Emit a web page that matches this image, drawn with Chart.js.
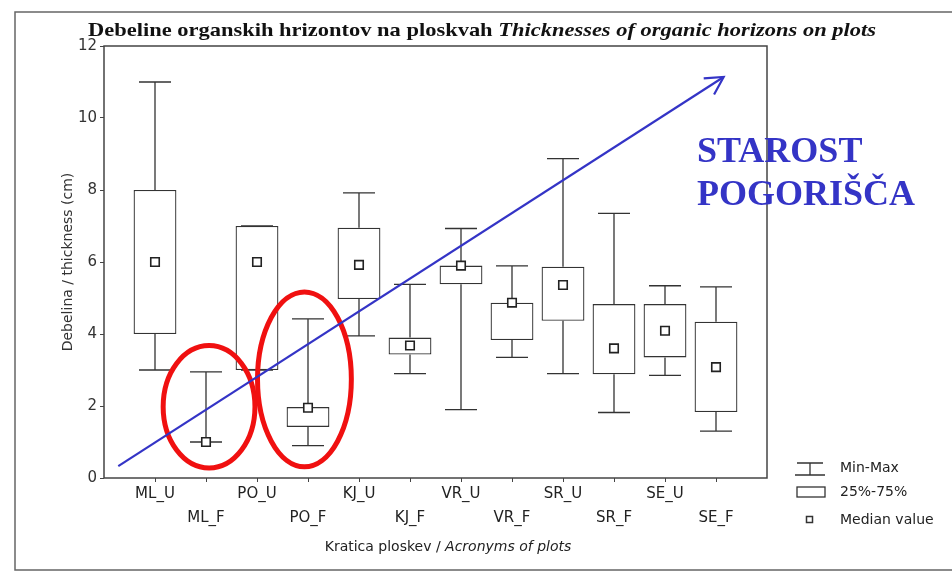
<!DOCTYPE html>
<html>
<head>
<meta charset="utf-8">
<script src="https://cdn.jsdelivr.net/npm/chart.js@4.4.1/dist/chart.umd.min.js"></script>
<style>
  html, body { margin: 0; padding: 0; background: #fff; }
  canvas { display: block; }
</style>
</head>
<body>
<canvas id="chart" width="952" height="576"></canvas>
<script>
// Plots and box values (cm)
const plots = ['ML_U', 'ML_F', 'PO_U', 'PO_F', 'KJ_U', 'KJ_F', 'VR_U', 'VR_F', 'SR_U', 'SR_F', 'SE_U', 'SE_F']
const minVals = [3.0, 1.0, 3.0, 0.9, 3.95, 2.9, 1.9, 3.35, 2.9, 1.82, 2.85, 1.3]
const q1Vals = [4.0, 1.0, 3.0, 1.42, 4.97, 3.43, 5.38, 3.83, 4.37, 2.88, 3.35, 1.83]
const medianVals = [6.0, 1.0, 6.0, 1.95, 5.92, 3.68, 5.9, 4.87, 5.36, 3.6, 4.09, 3.08]
const q3Vals = [8.0, 1.0, 7.0, 1.97, 6.95, 3.9, 5.9, 4.87, 5.87, 4.83, 4.83, 4.34]
const maxVals = [11.0, 2.95, 7.0, 4.42, 7.92, 5.38, 6.93, 5.89, 8.87, 7.35, 5.34, 5.31]
const yTicks = [0, 2, 4, 6, 8, 10, 12]

// Hand-drawn overlay (in data units)
const arrowX = [0.28, 12.15]
const arrowY = [0.33, 11.14]
const rings = [
  { x: 2.06, y: 1.98, w: 0.9, h: 1.7 },
  { x: 3.93, y: 2.74, w: 0.92, h: 2.43 },
]

const INK = '#333'
const BLUE = '#3434c6'

/*--------------------------------------------
  Extra drawing: whiskers, rings, titles, legend
---------------------------------------------*/
const decor = {
  id: 'decor',
  beforeDraw(chart) {
    const { ctx } = chart
    ctx.save()
    ctx.fillStyle = '#fff'
    ctx.fillRect(0, 0, chart.width, chart.height)
    ctx.restore()
  },
  beforeDatasetsDraw(chart) {
    const { ctx, scales: { x, y } } = chart
    ctx.save()
    ctx.strokeStyle = INK
    ctx.lineWidth = 1.3
    plots.forEach((p, i) => {
      const px = x.getPixelForValue(i + 1)
      const yMin = y.getPixelForValue(minVals[i])
      const yMax = y.getPixelForValue(maxVals[i])
      ctx.beginPath()
      ctx.moveTo(px, yMin)
      ctx.lineTo(px, y.getPixelForValue(q1Vals[i]))
      ctx.moveTo(px, y.getPixelForValue(q3Vals[i]))
      ctx.lineTo(px, yMax)
      ctx.moveTo(px - 16, yMin)
      ctx.lineTo(px + 16, yMin)
      ctx.moveTo(px - 16, yMax)
      ctx.lineTo(px + 16, yMax)
      ctx.stroke()
    })
    ctx.restore()
  },
  afterDatasetDraw(chart, args) {
    if (args.index !== 1) return
    const { ctx, scales: { x, y } } = chart
    ctx.save()
    ctx.strokeStyle = '#f01010'
    ctx.lineWidth = 5
    rings.forEach((r) => {
      const cx = x.getPixelForValue(r.x)
      const cy = y.getPixelForValue(r.y)
      const rx = Math.abs(x.getPixelForValue(r.x + r.w) - cx)
      const ry = Math.abs(y.getPixelForValue(r.y + r.h) - cy)
      ctx.beginPath()
      ctx.ellipse(cx, cy, rx, ry, 0, 0, Math.PI * 2)
      ctx.stroke()
    })
    ctx.restore()
  },
  afterDatasetsDraw(chart) {
    const { ctx, chartArea: a, scales: { x, y } } = chart
    ctx.save()
    // plot frame
    ctx.strokeStyle = '#444'
    ctx.lineWidth = 1.5
    ctx.strokeRect(a.left, a.top, a.right - a.left, a.bottom - a.top)

    // arrow head
    const x0 = x.getPixelForValue(arrowX[0]), y0 = y.getPixelForValue(arrowY[0])
    const x1 = x.getPixelForValue(arrowX[1]), y1 = y.getPixelForValue(arrowY[1])
    const ang = Math.atan2(y1 - y0, x1 - x0)
    ctx.strokeStyle = BLUE
    ctx.lineWidth = 2.2
    ctx.beginPath()
    ctx.moveTo(x1 - 20 * Math.cos(ang - 0.5), y1 - 20 * Math.sin(ang - 0.5))
    ctx.lineTo(x1, y1)
    ctx.lineTo(x1 - 20 * Math.cos(ang + 0.5), y1 - 20 * Math.sin(ang + 0.5))
    ctx.stroke()
    ctx.restore()
  },
  afterDraw(chart) {
    const { ctx } = chart
    ctx.save()

    // outer frame of the scanned figure
    ctx.strokeStyle = '#666'
    ctx.lineWidth = 1.5
    ctx.beginPath()
    ctx.moveTo(952, 12)
    ctx.lineTo(15, 12)
    ctx.lineTo(15, 570)
    ctx.lineTo(952, 570)
    ctx.stroke()

    // title, squeezed to the width of the scan
    const t1 = 'Debeline organskih hrizontov na ploskvah '
    const t2 = 'Thicknesses of organic horizons on plots'
    const f1 = 'bold 19px "Liberation Serif"'
    const f2 = 'italic bold 19px "Liberation Serif"'
    ctx.font = f1
    const w1 = ctx.measureText(t1).width
    ctx.font = f2
    const w2 = ctx.measureText(t2).width
    const s = 788 / (w1 + w2)
    ctx.translate(88, 36)
    ctx.scale(s, 1)
    ctx.fillStyle = '#111'
    ctx.textBaseline = 'alphabetic'
    ctx.font = f1
    ctx.fillText(t1, 0, 0)
    ctx.font = f2
    ctx.fillText(t2, w1, 0)
    ctx.setTransform(1, 0, 0, 1, 0, 0)

    // x axis title
    const a1 = 'Kratica ploskev / '
    const a2 = 'Acronyms of plots'
    ctx.font = '14px "DejaVu Sans"'
    const aw1 = ctx.measureText(a1).width
    ctx.font = 'italic 14px "DejaVu Sans"'
    const aw2 = ctx.measureText(a2).width
    const ax = 448 - (aw1 + aw2) / 2
    ctx.fillStyle = '#222'
    ctx.textBaseline = 'middle'
    ctx.font = '14px "DejaVu Sans"'
    ctx.fillText(a1, ax, 547)
    ctx.font = 'italic 14px "DejaVu Sans"'
    ctx.fillText(a2, ax + aw1, 547)

    // legend
    ctx.strokeStyle = INK
    ctx.lineWidth = 1.3
    ctx.beginPath()
    ctx.moveTo(797, 463); ctx.lineTo(823, 463)
    ctx.moveTo(810, 463); ctx.lineTo(810, 475)
    ctx.moveTo(795, 475); ctx.lineTo(825, 475)
    ctx.stroke()
    ctx.strokeRect(797, 487, 28, 10)
    ctx.lineWidth = 1.5
    ctx.strokeRect(806.5, 516.5, 6, 6)
    ctx.font = '14px "DejaVu Sans"'
    ctx.fillStyle = '#222'
    ctx.fillText('Min-Max', 840, 468)
    ctx.fillText('25%-75%', 840, 492)
    ctx.fillText('Median value', 840, 520)

    // blue note
    ctx.fillStyle = BLUE
    ctx.textBaseline = 'alphabetic'
    ctx.font = 'bold 36px "Liberation Serif"'
    ctx.fillText('STAROST', 697, 162)
    ctx.fillText('POGORIŠČA', 697, 205)
    ctx.restore()
  },
}

/*--------------------------------------------
  Chart
---------------------------------------------*/
new Chart(document.getElementById('chart'), {
  type: 'bar',
  data: {
    datasets: [
      {
        type: 'bar',
        label: '25%-75%',
        data: plots.map((p, i) => ({ x: i + 1, y: [q1Vals[i], q3Vals[i]] })),
        backgroundColor: '#fff',
        borderColor: INK,
        borderWidth: 1.3,
        borderSkipped: false,
        barPercentage: 0.84,
        categoryPercentage: 1,
        order: 4,
      },
      {
        type: 'scatter',
        label: 'Median value',
        data: plots.map((p, i) => ({ x: i + 1, y: medianVals[i] })),
        pointStyle: 'rect',
        pointRadius: 6,
        pointBackgroundColor: '#fff',
        pointBorderColor: '#222',
        pointBorderWidth: 1.6,
        order: 3,
      },
      {
        type: 'line',
        label: 'arrow',
        data: arrowX.map((v, i) => ({ x: v, y: arrowY[i] })),
        borderColor: BLUE,
        borderWidth: 2.2,
        pointRadius: 0,
        order: 1,
      },
    ],
  },
  options: {
    responsive: false,
    animation: false,
    layout: { padding: { left: 0, top: 46, right: 185, bottom: 0 } },
    plugins: {
      legend: { display: false },
      tooltip: { enabled: false },
    },
    scales: {
      x: {
        type: 'linear',
        min: 0,
        max: 13,
        offset: false,
        border: { display: false },
        grid: { offset: false, drawOnChartArea: false, tickLength: 4, color: '#444' },
        afterFit(scale) {
          scale.height = 98
        },
        afterBuildTicks(scale) {
          scale.ticks = plots.map((p, i) => ({ value: i + 1 }))
        },
        ticks: {
          autoSkip: false,
          maxRotation: 0,
          padding: 0,
          color: '#222',
          font: { family: 'DejaVu Sans', size: 15, lineHeight: 1.6 },
          callback(value) {
            const i = Math.round(value) - 1
            if (i < 0 || i >= plots.length) return ''
            return i % 2 === 0 ? [plots[i]] : ['', plots[i]]
          },
        },
      },
      y: {
        min: 0,
        max: 12,
        border: { display: false },
        grid: { drawOnChartArea: false, tickLength: 4, color: '#444' },
        afterFit(scale) {
          scale.width = 104
        },
        afterBuildTicks(scale) {
          scale.ticks = yTicks.map((v) => ({ value: v }))
        },
        ticks: {
          padding: 3,
          color: '#333',
          font: { family: 'DejaVu Sans', size: 15 },
        },
        title: {
          display: true,
          text: 'Debelina / thickness (cm)',
          color: '#333',
          font: { family: 'DejaVu Sans', size: 14 },
          padding: { top: 60, bottom: 0 },
        },
      },
    },
  },
  plugins: [decor],
})
</script>
</body>
</html>
